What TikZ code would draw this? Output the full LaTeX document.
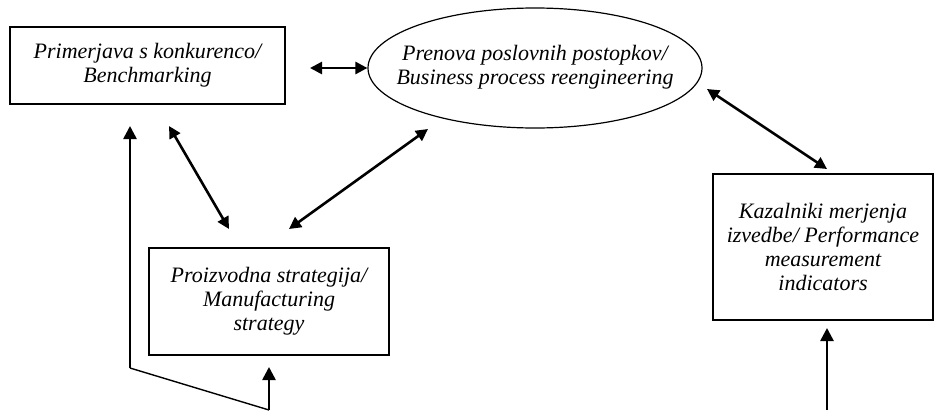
\documentclass[tikz,border=0pt]{standalone}
\usepackage{fontspec}
\setmainfont{Liberation Serif}
\usetikzlibrary{arrows.meta,shapes.geometric}

\begin{document}
\begin{tikzpicture}[x=1pt,y=-1pt,
	box/.style={draw, line width=1.4pt, align=center, inner sep=0pt, font=\fontsize{22}{24}\selectfont\itshape},
	tip/.style={Triangle[length=13pt,width=13pt]},
	both/.style={{Triangle[length=12pt,width=12pt]}-{Triangle[length=12pt,width=12pt]}, line width=2.6pt},
	up/.style={-{Triangle[length=13pt,width=13pt]}, line width=2.6pt}]
			\useasboundingbox (0,0) rectangle (935,410);
			\node[box, minimum width=275pt, minimum height=77pt] (bench) at (147.5,65.5) {Primerjava s konkurenco/\\Benchmarking};
			\node[box, ellipse, line width=1.2pt, minimum width=334pt, minimum height=120pt] (bpr) at (535,68)
				{\makebox[0pt]{\begin{tabular}{@{}c@{}}Prenova poslovnih postopkov/\\Business process reengineering\end{tabular}}};
			\node[box, minimum width=240pt, minimum height=107pt] (mfg) at (269,301.5) {Proizvodna strategija/\\Manufacturing\\strategy};
			\node[box, minimum width=220pt, minimum height=146pt] (kpi) at (823,247) {Kazalniki merjenja\\izvedbe/ Performance\\measurement\\indicators};
			\coordinate (benchE) at (310,68);
			\coordinate (benchS) at (169,126);
			\coordinate (mfgNW) at (229,229);
			\coordinate (mfgNE) at (289,229);
			\coordinate (bprSW) at (428,129);
			\coordinate (bprSE) at (707,89);
			\coordinate (kpiN) at (827,169);
			\coordinate (mfgS) at (269,367);
			\coordinate (kpiS) at (827,328);
			\coordinate (footL) at (269,410);
			\coordinate (footR) at (827,410);
			\coordinate (bend) at (130,368);
			\coordinate (benchSW) at (130,126);
			\draw [both] (benchE) -- (bpr.west);
			\draw [both] (benchS) -- (mfgNW);
			\draw [both] (bprSW) -- (mfgNE);
			\draw [both] (bprSE) -- (kpiN);
			\draw [up] (footL) -- (mfgS);
			\draw [up] (footR) -- (kpiS);
			\draw [line width=1.4pt] (footL) -- (bend);
			\draw [up] (bend) -- (benchSW);
\end{tikzpicture}
\end{document}
